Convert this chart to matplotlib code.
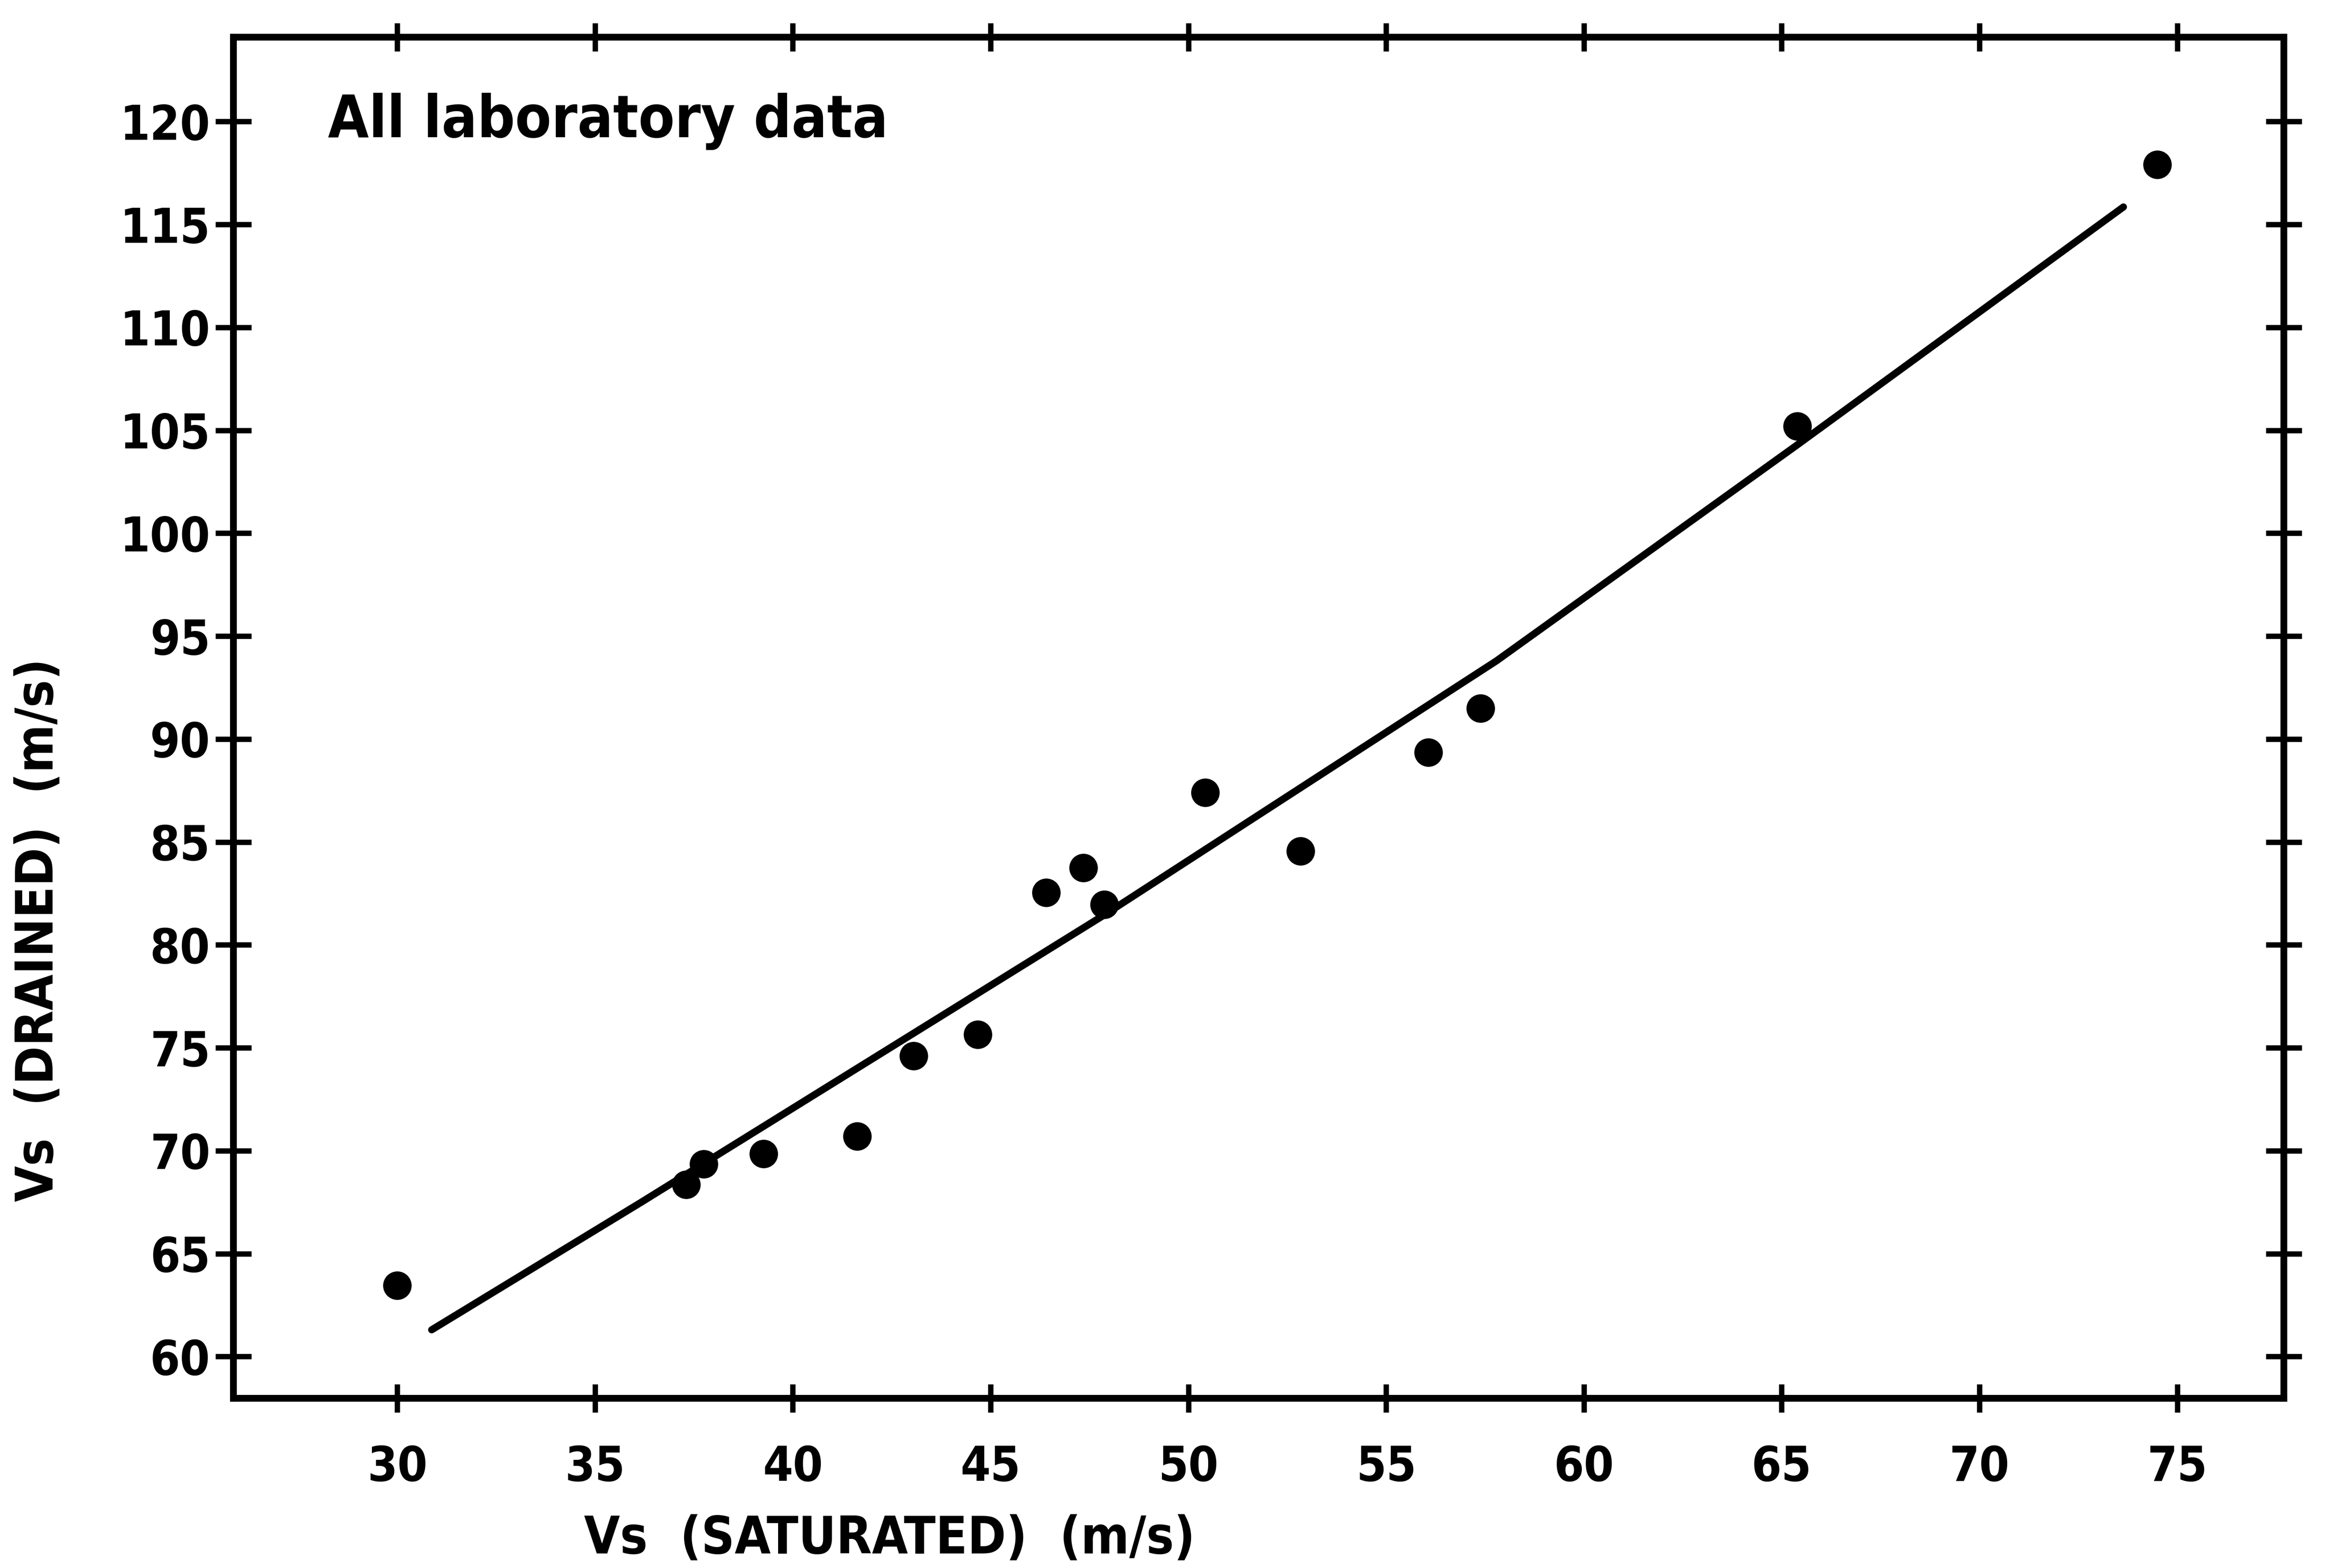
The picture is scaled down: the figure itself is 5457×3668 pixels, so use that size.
import matplotlib
matplotlib.use("Agg")
import matplotlib.pyplot as plt

# laboratory measurements, shear wave velocity (m/s)
vs_saturated = [30.0, 37.3, 37.75, 39.26, 41.63, 43.05, 44.67, 46.40, 47.34, 47.87,
                50.43, 52.84, 56.07, 57.39, 65.40, 74.5]
vs_drained = [63.45, 68.35, 69.35, 69.85, 70.7, 74.6, 75.65, 82.55, 83.75, 81.95,
              87.4, 84.55, 89.35, 91.5, 105.2, 117.9]

# fitted curve
fit_x = [30.87, 36.17, 47.87, 57.79, 65.4, 73.64]
fit_y = [61.3, 67.5, 81.45, 93.8, 104.3, 115.85]

x_ticks = [30, 35, 40, 45, 50, 55, 60, 65, 70, 75]
y_ticks = [60, 65, 70, 75, 80, 85, 90, 95, 100, 105, 110, 115, 120]

plt.rcParams["font.family"] = ["DejaVu Sans"]
plt.rcParams["font.stretch"] = "condensed"
plt.rcParams["font.weight"] = "bold"

fig = plt.figure(figsize=(5457 / 300, 3668 / 300), dpi=300)
ax = fig.add_axes([0.1001, 0.1082, 0.979 - 0.1001, 0.9763 - 0.1082])

ax.plot(fit_x, fit_y, color="black", lw=4, solid_capstyle="round",
        solid_joinstyle="round")
ax.plot(vs_saturated, vs_drained, "o", color="black", markersize=15)

ax.set_xlim(25.86, 77.7)
ax.set_ylim(57.97, 124.1)
ax.set_xticks(x_ticks)
ax.set_yticks(y_ticks)

for s in ax.spines.values():
    s.set_linewidth(3.8)

ax.tick_params(axis="x", which="both", direction="inout", length=16, width=3,
               top=True, bottom=True, labelsize=27, pad=18)
ax.tick_params(axis="y", which="both", direction="inout", length=20, width=3,
               left=True, right=True, labelsize=27, pad=3)
for lab in ax.get_xticklabels() + ax.get_yticklabels():
    lab.set_fontweight("bold")
    lab.set_fontstretch("condensed")

ax.text(0.046, 0.938, "All laboratory data", transform=ax.transAxes,
        fontsize=33, fontweight="bold", fontstretch="condensed",
        va="center", ha="left")

ax.set_xlabel("Vs  (SATURATED)  (m/s)", fontsize=29, fontweight="bold",
              fontstretch="condensed")
ax.xaxis.set_label_coords(0.171, -0.085)
ax.xaxis.label.set_ha("left")
ax.set_ylabel("Vs  (DRAINED)  (m/s)", fontsize=29, fontweight="bold",
              fontstretch="condensed")
ax.yaxis.label.set_va("center")
ax.yaxis.set_label_coords(-0.095, 0.344)

fig.savefig("out.png", dpi=300)
